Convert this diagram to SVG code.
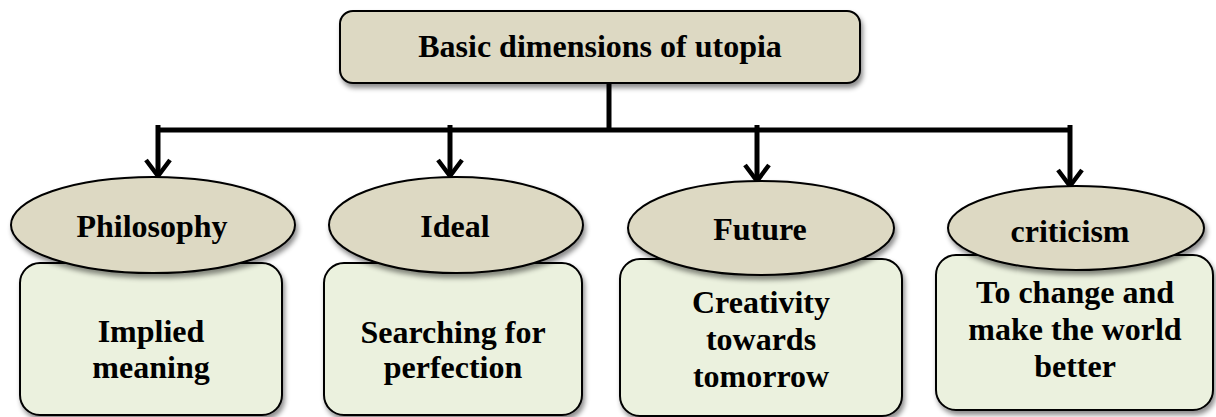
<svg xmlns="http://www.w3.org/2000/svg" width="1216" height="417" viewBox="0 0 1216 417">
<style>
.t{font-family:"Liberation Serif","Times New Roman",serif;font-weight:bold;font-size:32px;fill:#000;text-anchor:middle}
.hd{fill:#DDD9C3;stroke:#000;stroke-width:2}
.bd{fill:#EBF1DE;stroke:#000;stroke-width:2}
.cn{stroke:#000;stroke-width:5;fill:none}
</style>
<defs>
<filter id="sh" x="-10%" y="-10%" width="125%" height="135%">
<feDropShadow dx="2" dy="4" stdDeviation="2.5" flood-color="#000" flood-opacity="0.45"/>
</filter>
<marker id="ar" viewBox="0 0 22 30" refX="18" refY="15" markerWidth="22" markerHeight="30" markerUnits="userSpaceOnUse" orient="auto" overflow="visible">
<path d="M3,3 L19,15 L3,27" fill="none" stroke="#000" stroke-width="4.5" stroke-linecap="butt" stroke-linejoin="miter"/>
</marker>
</defs>

<g id="root">
<rect class="hd" x="340" y="11" width="520" height="72" rx="13" filter="url(#sh)"/>
<text class="t" x="600" y="57">Basic dimensions of utopia</text>
</g>

<g id="connectors">
<path class="cn" d="M609,83 V130"/>
<path class="cn" d="M158,130 H1070"/>
<path class="cn" d="M158,125 V175" marker-end="url(#ar)"/>
<path class="cn" d="M450,125 V175" marker-end="url(#ar)"/>
<path class="cn" d="M757,125 V180" marker-end="url(#ar)"/>
<path class="cn" d="M1070,125 V185" marker-end="url(#ar)"/>
</g>

<g id="philosophy">
<rect class="bd" x="20" y="263" width="262" height="152" rx="20" filter="url(#sh)"/>
<ellipse class="hd" cx="153" cy="225" rx="142" ry="48" filter="url(#sh)"/>
<text class="t" x="152" y="237">Philosophy</text>
<text class="t" x="151" y="342">Implied</text>
<text class="t" x="151" y="378">meaning</text>
</g>

<g id="ideal">
<rect class="bd" x="324" y="263" width="258" height="152" rx="20" filter="url(#sh)"/>
<ellipse class="hd" cx="456" cy="225" rx="127" ry="48" filter="url(#sh)"/>
<text class="t" x="455" y="237">Ideal</text>
<text class="t" x="453" y="343">Searching for</text>
<text class="t" x="453" y="378">perfection</text>
</g>

<g id="future">
<rect class="bd" x="620" y="259" width="282" height="157" rx="20" filter="url(#sh)"/>
<ellipse class="hd" cx="761" cy="228" rx="133" ry="47" filter="url(#sh)"/>
<text class="t" x="760" y="240">Future</text>
<text class="t" x="761" y="313">Creativity</text>
<text class="t" x="761" y="350">towards</text>
<text class="t" x="761" y="387">tomorrow</text>
</g>

<g id="criticism">
<rect class="bd" x="936" y="255" width="277" height="155" rx="20" filter="url(#sh)"/>
<ellipse class="hd" cx="1076" cy="228" rx="128" ry="42" filter="url(#sh)"/>
<text class="t" x="1070" y="242">criticism</text>
<text class="t" x="1075" y="303">To change and</text>
<text class="t" x="1075" y="340">make the world</text>
<text class="t" x="1075" y="377">better</text>
</g>
</svg>
